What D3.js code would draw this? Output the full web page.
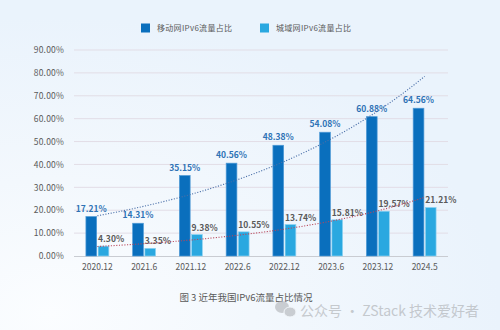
<!DOCTYPE html>
<html><head><meta charset="utf-8">
<script src="https://cdn.jsdelivr.net/npm/d3@7"></script>
<style>html,body{margin:0;padding:0;}svg{display:block;}</style>
</head><body>
<svg id="c" width="500" height="330"></svg>
<script>
const categories = ["2020.12","2021.6","2021.12","2022.6","2022.12","2023.6","2023.12","2024.5"];
const seriesNames = ["移动网IPv6流量占比","城域网IPv6流量占比"];
const mobile = [17.21,14.31,35.15,40.56,48.38,54.08,60.88,64.56];
const metro  = [4.30,3.35,9.38,10.55,13.74,15.81,19.57,21.21];
const yTicks = [0,10,20,30,40,50,60,70,80,90];
const caption = "图 3 近年我国IPv6流量占比情况";
const watermark = "公众号 · ZStack 技术爱好者";

const svg = d3.select("#c");
const defs = svg.append("defs");
const g1 = defs.append("radialGradient").attr("id","bg").attr("cx","0.1").attr("cy","0.95").attr("r","0.9");
g1.append("stop").attr("offset","0").attr("stop-color","#fbfdff");
g1.append("stop").attr("offset","0.45").attr("stop-color","#f3f8fd");
g1.append("stop").attr("offset","1").attr("stop-color","#eaf3fc");
svg.append("rect").attr("width",500).attr("height",330).attr("fill","url(#bg)");

const colors = ["#0a6fbd","#2aa8e0"];
const strokes = ["#4f9ad6","#8fd3f2"];
const font = "'Noto Sans CJK SC','Noto Sans',sans-serif";

const x0 = d3.scaleBand().domain(categories).range([74,448]).paddingInner(0.51).paddingOuter(0.255);
const x1 = d3.scaleBand().domain([0,1]).range([0,x0.bandwidth()]).paddingInner(0.12);
const y = d3.scaleLinear().domain([0,90]).range([256,50]);

// grid
svg.append("g").selectAll("line").data(yTicks.slice(1)).join("line")
  .attr("x1",74).attr("x2",448).attr("y1",d=>y(d)).attr("y2",d=>y(d))
  .attr("stroke","#e2dde6").attr("stroke-width",1);

// y axis
const yAxis = d3.axisLeft(y).tickValues(yTicks).tickFormat(d=>d.toFixed(2)+"%").tickSize(0).tickPadding(10);
const ya = svg.append("g").attr("transform","translate(74,0)").call(yAxis);
ya.select(".domain").remove();
ya.selectAll("text").attr("font-family",font).attr("font-size",8.5).attr("fill","#595959").attr("letter-spacing",0.2);

// x axis
const xAxis = d3.axisBottom(x0).tickSize(0).tickPadding(8);
const xa = svg.append("g").attr("transform","translate(0,256)").call(xAxis);
xa.select(".domain").attr("d","M74,0.5H448").attr("stroke","#c9ccd2");
xa.selectAll("text").attr("font-family",font).attr("font-size",8.5).attr("fill","#595959");

// bars
const data = categories.map((c,i)=>({c, v:[mobile[i],metro[i]]}));
const groups = svg.append("g").selectAll("g").data(data).join("g")
  .attr("transform",d=>`translate(${x0(d.c)},0)`);
groups.selectAll("rect").data(d=>d.v.map((v,k)=>({v,k}))).join("rect")
  .attr("x",d=>x1(d.k)).attr("width",x1.bandwidth())
  .attr("y",d=>y(d.v)).attr("height",d=>256-y(d.v))
  .attr("fill",d=>colors[d.k]).attr("stroke",d=>strokes[d.k]).attr("stroke-width",0.7);

// exponential trendlines (least-squares fit on ln values, as in the source chart)
function expFit(vals){
  const xs=vals.map((_,i)=>i+1), ls=vals.map(v=>Math.log(v));
  const mx=d3.mean(xs), ml=d3.mean(ls);
  const b=d3.sum(xs.map((xx,i)=>(xx-mx)*(ls[i]-ml)))/d3.sum(xs.map(xx=>(xx-mx)**2));
  const a=ml-b*mx;
  return t=>Math.exp(a+b*t);
}
const trendColors=["#4a6fa8","#b8465a"];
[mobile,metro].forEach((vals,k)=>{
  const f=expFit(vals);
  const pts=d3.range(1,8.001,0.1).map(t=>[x0(categories[0])+x0.bandwidth()/2+(t-1)*x0.step(), y(f(t))]);
  svg.append("path").attr("d",d3.line()(pts)).attr("fill","none")
    .attr("stroke",trendColors[k]).attr("stroke-width",1.1).attr("stroke-dasharray","1.1,1.6");
});

// labels
groups.append("text").text(d=>d.v[0].toFixed(2)+"%")
  .attr("x",x1(0)+x1.bandwidth()/2).attr("y",d=>y(d.v[0])-5).attr("text-anchor","middle")
  .attr("font-family",font).attr("font-size",8.5).attr("font-weight","bold").attr("fill","#2e72b5");
groups.append("text").text(d=>d.v[1].toFixed(2)+"%")
  .attr("x",x1(1)).attr("y",d=>y(d.v[1])-4).attr("text-anchor","start")
  .attr("font-family",font).attr("font-size",8.5).attr("font-weight","bold").attr("fill","#595959");

// legend
const lg = svg.append("g");
const legX=[141,260];
seriesNames.forEach((s,k)=>{
  lg.append("rect").attr("x",legX[k]).attr("y",23.5).attr("width",9).attr("height",9).attr("fill",colors[k]);
  lg.append("text").text(s).attr("x",legX[k]+16).attr("y",31).attr("font-family",font)
    .attr("font-size",8).attr("letter-spacing",0.3).attr("fill","#595959");
});

// caption
svg.append("text").text(caption).attr("x",246).attr("y",301).attr("text-anchor","middle")
  .attr("font-family",font).attr("font-size",9.5).attr("fill","#595959");

// watermark
const wm = svg.append("g").attr("opacity",0.7);
wm.append("ellipse").attr("cx",282).attr("cy",307).attr("rx",7).attr("ry",6).attr("fill","#b9bcc0");
wm.append("ellipse").attr("cx",290).attr("cy",312).attr("rx",6).attr("ry",5).attr("fill","#b9bcc0").attr("stroke","#f3f7fb").attr("stroke-width",1);
wm.append("text").text(watermark).attr("x",300).attr("y",316).attr("font-family",font)
  .attr("font-size",14).attr("fill","#b3b6ba");
</script>
</body></html>
